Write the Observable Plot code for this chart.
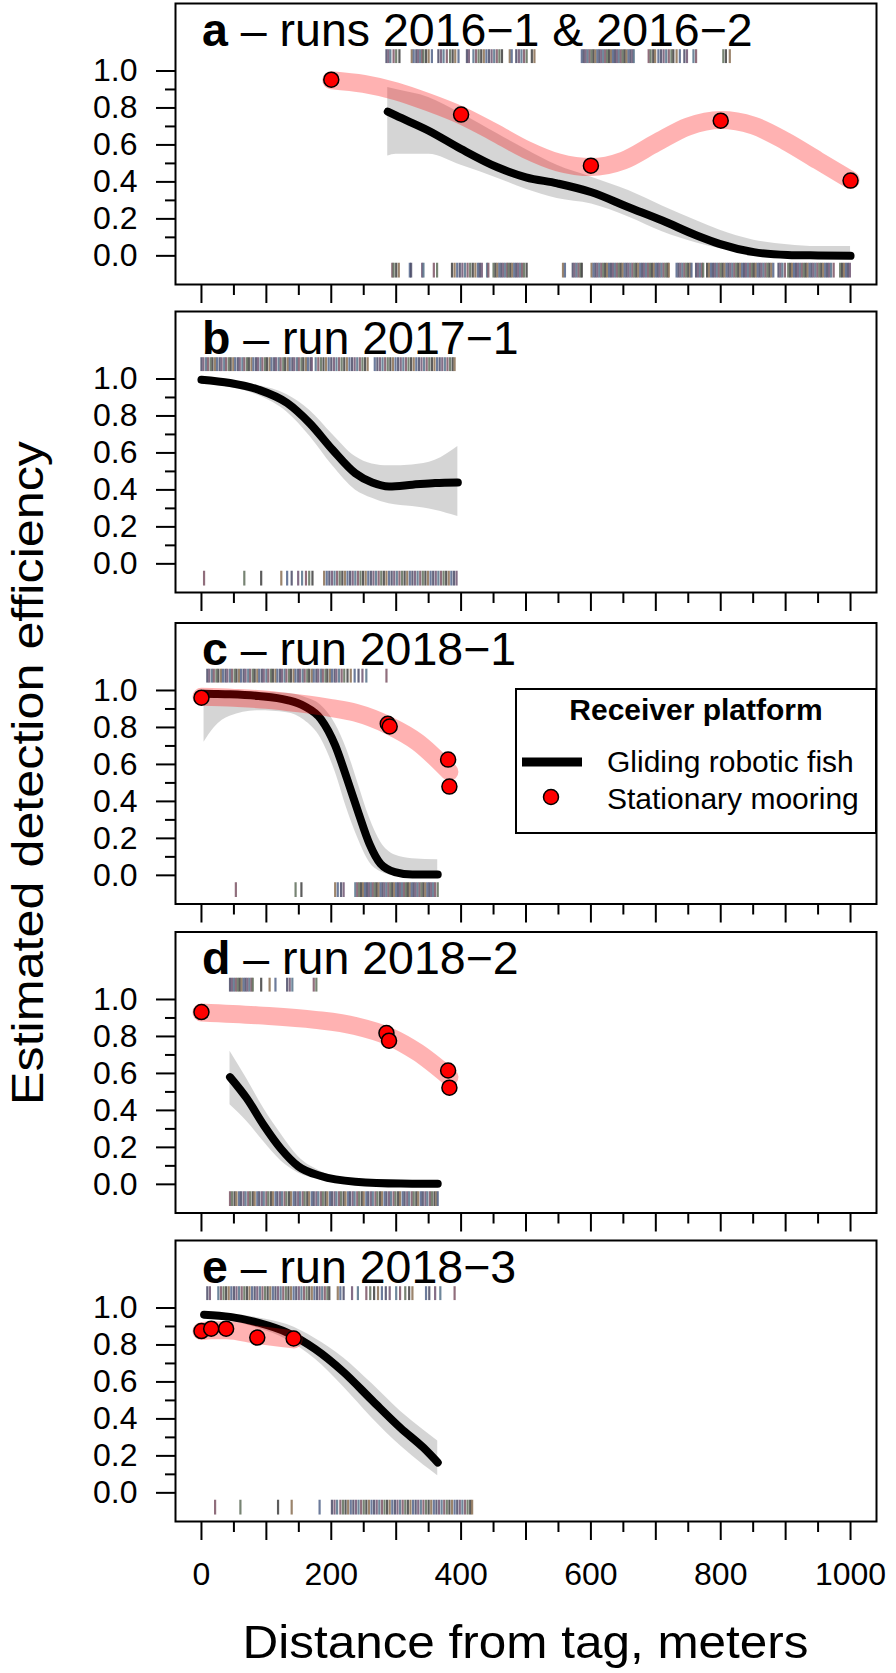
<!DOCTYPE html>
<html><head><meta charset="utf-8">
<script src="https://cdn.jsdelivr.net/npm/d3@7"></script>
<script src="https://cdn.jsdelivr.net/npm/@observablehq/plot@0.6"></script>
<style>
html,body{margin:0;padding:0;background:#fff;}
#wrap{position:relative;width:896px;height:1673px;overflow:hidden;font-family:"Liberation Sans",Arial,sans-serif;}
#wrap svg{position:absolute;left:0;}
</style></head><body><div id="wrap"></div>
<script>
// ---------- data ----------
const panelLetters = ["a", "b", "c", "d", "e"];
const panelRuns = ["runs 2016\u22121 & 2016\u22122", "run 2017\u22121", "run 2018\u22121", "run 2018\u22122", "run 2018\u22123"];
const yTitle = "Estimated detection efficiency";
const xTitle = "Distance from tag, meters";
const legendTitle = "Receiver platform";
const legendLabels = ["Gliding robotic fish", "Stationary mooring"];

const yMajorTicks = [0, 0.2, 0.4, 0.6, 0.8, 1.0];
const yMinorTicks = [0.1, 0.3, 0.5, 0.7, 0.9];
const xLabelTicks = [0, 200, 400, 600, 800, 1000];
const xMidTicks = [100, 300, 500, 700, 900];
const xMinorTicks = [50, 150, 250, 350, 450, 550, 650, 750, 850, 950];

// glider (robotic fish) fits: distance, mean, lower, upper
const glA_x = [287, 300, 350, 400, 456, 500, 548, 601, 658, 710, 763, 798, 851, 903, 950, 1000];
const glA_m = [0.78, 0.758, 0.677, 0.578, 0.479, 0.425, 0.392, 0.344, 0.263, 0.191, 0.110, 0.065, 0.02, 0.005, 0.002, 0.0];
const glA_lo = [0.54, 0.55, 0.55, 0.49, 0.42, 0.36, 0.31, 0.28, 0.21, 0.13, 0.07, 0.04, 0.015, 0.0, 0.0, 0.0];
const glA_hi = [0.91, 0.90, 0.857, 0.77, 0.66, 0.575, 0.49, 0.425, 0.353, 0.27, 0.19, 0.14, 0.085, 0.06, 0.05, 0.05];

const glB_x = [0, 44, 88, 132, 167, 202, 237, 263, 289, 325, 360, 395];
const glB_m = [0.996, 0.978, 0.942, 0.87, 0.76, 0.617, 0.49, 0.44, 0.419, 0.428, 0.437, 0.44];
const glB_lo = [0.97, 0.955, 0.91, 0.82, 0.69, 0.53, 0.40, 0.355, 0.325, 0.31, 0.29, 0.256];
const glB_hi = [1.0, 0.99, 0.965, 0.915, 0.83, 0.70, 0.58, 0.54, 0.53, 0.535, 0.56, 0.635];

const glC_x = [4, 20, 44, 88, 132, 158, 184, 206, 224, 241, 259, 276, 298, 325, 364];
const glC_m = [0.982, 0.981, 0.979, 0.97, 0.948, 0.916, 0.845, 0.703, 0.525, 0.347, 0.169, 0.062, 0.018, 0.005, 0.005];
const glC_lo = [0.72, 0.80, 0.86, 0.89, 0.88, 0.84, 0.74, 0.56, 0.36, 0.20, 0.07, 0.02, 0.0, 0.0, 0.0];
const glC_hi = [0.99, 0.99, 0.99, 0.99, 0.985, 0.965, 0.92, 0.82, 0.68, 0.50, 0.31, 0.18, 0.11, 0.09, 0.085];

const glD_x = [44, 70, 96, 123, 149, 184, 237, 307, 364];
const glD_m = [0.58, 0.464, 0.32, 0.19, 0.098, 0.045, 0.014, 0.004, 0.003];
const glD_lo = [0.43, 0.34, 0.23, 0.125, 0.062, 0.025, 0.005, 0.0, 0.0];
const glD_hi = [0.72, 0.57, 0.41, 0.27, 0.15, 0.07, 0.025, 0.012, 0.01];

const glE_x = [4, 44, 88, 132, 175, 219, 263, 307, 342, 364];
const glE_m = [0.964, 0.952, 0.92, 0.867, 0.778, 0.653, 0.50, 0.35, 0.244, 0.164];
const glE_lo = [0.946, 0.93, 0.89, 0.827, 0.724, 0.573, 0.404, 0.253, 0.15, 0.093];
const glE_hi = [0.98, 0.97, 0.946, 0.91, 0.835, 0.73, 0.59, 0.44, 0.34, 0.28];

// stationary mooring fits
const pkA_x = [200, 250, 300, 350, 400, 450, 500, 550, 600, 650, 700, 750, 800, 850, 900, 950, 1000];
const pkA_y = [0.95, 0.93, 0.89, 0.83, 0.76, 0.67, 0.575, 0.505, 0.48, 0.515, 0.61, 0.70, 0.735, 0.705, 0.62, 0.515, 0.41];
const pkC_x = [0, 50, 100, 150, 200, 237, 289, 333, 382];
const pkC_y = [0.966, 0.96, 0.95, 0.93, 0.905, 0.88, 0.81, 0.72, 0.56];
const pkD_x = [0, 88, 175, 237, 289, 333, 382];
const pkD_y = [0.93, 0.914, 0.89, 0.857, 0.80, 0.714, 0.58];
const pkE_x = [0, 15, 38, 86, 142];
const pkE_y = [0.875, 0.88, 0.88, 0.855, 0.83];

// stationary mooring observations
const stA_x = [200, 400, 600, 800, 1000];
const stA_y = [0.953, 0.764, 0.488, 0.731, 0.407];
const stC_x = [0, 287, 290, 380, 382];
const stC_y = [0.961, 0.82, 0.805, 0.626, 0.48];
const stD_x = [0, 285, 289, 380, 382];
const stD_y = [0.932, 0.818, 0.777, 0.616, 0.523];
const stE_x = [0, 15, 38, 86, 142];
const stE_y = [0.875, 0.888, 0.888, 0.84, 0.835];

// rug: distances of detected (top) and missed (bottom) transmissions
const rugA_top = [285, 288, 291, 296, 300, 305, 324, 327, 331, 334, 337, 340, 342, 346, 350, 355, 365, 369, 373, 378, 383, 387, 391, 396, 409, 412, 419, 423, 427, 431, 435, 439, 443, 447, 451, 455, 459, 463, 475, 478, 485, 489, 493, 497, 501, 509, 513, 586, 589, 592, 595, 598, 601, 604, 607, 610, 613, 616, 619, 622, 625, 628, 631, 634, 637, 640, 643, 646, 649, 652, 655, 658, 661, 664, 666, 689, 692, 696, 699, 704, 708, 712, 716, 720, 724, 727, 732, 737, 744, 748, 758, 762, 804, 808, 814];
const rugA_bot = [294, 296, 300, 304, 321, 323, 340, 342, 358, 363, 386, 390, 394, 398, 402, 406, 410, 414, 418, 422, 426, 429, 432, 440, 442, 450, 453, 456, 459, 462, 465, 468, 471, 473, 476, 479, 482, 485, 488, 491, 494, 497, 501, 557, 560, 572, 575, 578, 581, 584, 586,
  601, 604, 607, 610, 613, 616, 619, 622, 625, 628, 631, 634, 637, 640, 643, 646, 649, 652, 655, 658, 661, 664, 667, 670, 673, 676, 679, 682, 685, 688, 691, 694, 697, 700, 703, 706, 709, 712, 715, 718, 720,
  732, 735, 738, 741, 744, 747, 750, 753, 755, 762, 765, 768, 771, 773,
  779, 782, 785, 788, 791, 794, 797, 800, 803, 806, 809, 812, 815, 818, 821, 824, 827, 830, 833, 836, 839, 842, 845, 848, 851, 854, 857, 860, 863, 866, 869, 872, 875, 878, 881,
  889, 892, 895, 899, 904, 907, 910, 913, 916, 919, 922, 925, 928, 931, 934, 937, 940, 943, 946, 949, 952, 955, 958, 961, 964, 967, 970, 974, 984, 987, 990, 993, 996, 999];
const rugB_top = [0, 3, 7, 10, 14, 17, 21, 24, 28, 31, 35, 38, 42, 45, 49, 52, 56, 59, 63, 66, 70, 73, 77, 80, 84, 87, 91, 94, 98, 101, 105, 108, 112, 115, 119, 122, 126, 129, 133, 136, 140, 143, 147, 150, 154, 157, 161, 164, 168, 170, 176, 180, 184, 188, 192, 196, 200, 204, 208, 212, 216, 220, 224, 228, 232, 236, 240, 244, 248, 252, 256, 267, 271, 275, 279, 283, 287, 291, 295, 299, 303, 307, 311, 315, 319, 323, 327, 331, 335, 339, 343, 347, 351, 355, 359, 363, 367, 371, 375, 379, 383, 387, 390];
const rugB_bot = [4, 66, 92, 123, 132, 139, 149, 155, 161, 166, 171, 189, 193, 197, 201, 205, 209, 213, 217, 221, 225, 229, 233, 237, 241, 245, 249, 253, 257, 261, 265, 269, 273, 277, 281, 285, 289, 293, 297, 301, 305, 309, 313, 317, 321, 325, 329, 333, 337, 341, 345, 349, 353, 357, 361, 365, 369, 373, 377, 381, 385, 389, 393];
const rugC_top = [9, 12, 16, 19, 23, 26, 30, 33, 37, 40, 44, 47, 51, 54, 58, 61, 65, 68, 72, 75, 79, 82, 86, 89, 93, 96, 100, 103, 107, 110, 114, 117, 121, 124, 128, 131, 135, 138, 142, 145, 149, 152, 156, 159, 163, 166, 170, 173, 177, 180, 184, 187, 191, 194, 198, 201, 205, 208, 212, 216, 220, 225, 230, 236, 242, 248, 254, 285];
const rugC_bot = [53, 145, 154, 206, 210, 215, 219, 237, 240, 243, 246, 249, 252, 255, 258, 261, 264, 267, 270, 273, 276, 279, 282, 285, 288, 291, 294, 297, 300, 303, 306, 309, 312, 315, 318, 321, 324, 327, 330, 333, 336, 339, 342, 345, 348, 351, 354, 357, 360, 364];
const rugD_top = [44, 47, 50, 53, 56, 59, 62, 65, 68, 71, 74, 77, 79, 92, 105, 114, 132, 136, 140, 173, 177];
const rugD_bot = [44, 47, 51, 54, 58, 61, 65, 68, 72, 75, 79, 82, 86, 89, 93, 96, 100, 103, 107, 110, 114, 117, 121, 124, 128, 131, 135, 138, 142, 145, 149, 152, 156, 159, 163, 166, 170, 173, 177, 180, 184, 187, 191, 194, 198, 201, 205, 208, 212, 215, 219, 222, 226, 229, 233, 236, 240, 243, 247, 250, 254, 257, 261, 264, 268, 271, 275, 278, 282, 285, 289, 292, 296, 299, 303, 306, 310, 313, 317, 320, 324, 327, 331, 334, 338, 341, 345, 348, 352, 355, 359, 362, 364];
const rugE_top = [9, 13, 26, 30, 34, 38, 42, 46, 50, 54, 58, 62, 66, 70, 74, 78, 82, 86, 90, 94, 98, 102, 106, 110, 114, 118, 122, 126, 130, 134, 138, 142, 146, 150, 154, 158, 162, 166, 170, 174, 178, 182, 186, 190, 194, 197, 210, 214, 219, 232, 241, 254, 260, 266, 272, 278, 284, 290, 300, 306, 314, 320, 325, 346, 351, 360, 368, 390];
const rugE_bot = [21, 60, 118, 139, 182, 201, 205, 209, 214, 218, 222, 226, 230, 234, 238, 242, 246, 250, 254, 258, 262, 266, 270, 274, 278, 282, 286, 290, 294, 298, 302, 306, 310, 314, 318, 322, 326, 330, 334, 338, 342, 346, 350, 354, 358, 362, 366, 370, 374, 378, 382, 386, 390, 394, 398, 402, 406, 410, 414, 417];

// ---------- layout / style ----------
const xDomain = [-40, 1040];
const yDomain = [-0.155, 1.365];
const rugTopY = [1.04, 1.115];
const rugBotY = [-0.04, -0.12];
const rugPalette = ["#4a4a66", "#6e5572", "#56728a", "#7d5565", "#5f6e5b", "#3f3f3f", "#8a6e52", "#52648a"];
const frameTops = [3, 311, 622.5, 931.5, 1240];
const frameH = 281;
const FONT = '"Liberation Sans", Arial, Helvetica, sans-serif';

const zip = (xs, ys) => xs.map((x, i) => ({x, y: ys[i]}));
const band = (xs, m, lo, hi) => xs.map((x, i) => ({x, m: m[i], lo: lo[i], hi: hi[i]}));

const panels = [
  {g: band(glA_x, glA_m, glA_lo, glA_hi), p: zip(pkA_x, pkA_y), s: zip(stA_x, stA_y), rt: rugA_top, rb: rugA_bot},
  {g: band(glB_x, glB_m, glB_lo, glB_hi), p: [], s: [], rt: rugB_top, rb: rugB_bot},
  {g: band(glC_x, glC_m, glC_lo, glC_hi), p: zip(pkC_x, pkC_y), s: zip(stC_x, stC_y), rt: rugC_top, rb: rugC_bot},
  {g: band(glD_x, glD_m, glD_lo, glD_hi), p: zip(pkD_x, pkD_y), s: zip(stD_x, stD_y), rt: rugD_top, rb: rugD_bot},
  {g: band(glE_x, glE_m, glE_lo, glE_hi), p: zip(pkE_x, pkE_y), s: zip(stE_x, stE_y), rt: rugE_top, rb: rugE_bot}
];

const wrap = document.getElementById("wrap");

panels.forEach((P, i) => {
  const last = i === panels.length - 1;
  const svgTop = Math.floor(frameTops[i]) - 3;
  const mTop = frameTops[i] - svgTop;
  const mBottom = last ? 80 : 26;
  const marks = [
    Plot.ruleX(P.rt, {x: d => d, y1: rugTopY[0], y2: rugTopY[1], stroke: (d, k) => rugPalette[k % rugPalette.length], strokeWidth: 2.2, strokeOpacity: 0.85}),
    Plot.ruleX(P.rb, {x: d => d, y1: rugBotY[0], y2: rugBotY[1], stroke: (d, k) => rugPalette[(k + 3) % rugPalette.length], strokeWidth: 2.2, strokeOpacity: 0.85}),
    Plot.areaY(P.g, {x: "x", y1: "lo", y2: "hi", fill: "#808080", fillOpacity: 0.33, curve: "monotone-x"}),
    Plot.line(P.g, {x: "x", y: "m", stroke: "black", strokeWidth: 8, curve: "monotone-x", strokeLinecap: "round"}),
    Plot.line(P.p, {x: "x", y: "y", stroke: "red", strokeOpacity: 0.3, strokeWidth: 18, curve: "monotone-x", strokeLinecap: "round"}),
    Plot.dot(P.s, {x: "x", y: "y", r: 7.5, fill: "red", stroke: "black", strokeWidth: 1.5}),
    Plot.frame({stroke: "black", strokeWidth: 2}),
    Plot.axisY(yMajorTicks, {tickSize: 19, tickPadding: 19, tickFormat: d3.format(".1f"), fontSize: 32, strokeWidth: 2, label: null}),
    Plot.axisY(yMinorTicks, {tickSize: 10, tickFormat: () => "", strokeWidth: 2, label: null}),
    Plot.axisX(xLabelTicks, {tickSize: 19, tickPadding: 22, tickFormat: last ? (d => String(d)) : (() => ""), fontSize: 32, strokeWidth: 2, label: null}),
    Plot.axisX(xMidTicks, {tickSize: 19, tickFormat: () => "", strokeWidth: 2, label: null}),
    Plot.axisX(xMinorTicks, {tickSize: 11, tickFormat: () => "", strokeWidth: 2, label: null})
  ];
  const chart = Plot.plot({
    width: 896,
    height: mTop + frameH + mBottom,
    marginLeft: 175, marginRight: 20, marginTop: mTop, marginBottom: mBottom,
    x: {domain: xDomain, axis: null, label: null},
    y: {domain: yDomain, axis: null, label: null},
    color: {type: "identity"},
    style: {background: "transparent", fontFamily: FONT, fontSize: "32px", color: "black", overflow: "visible"},
    marks
  });
  chart.style.top = svgTop + "px";
  wrap.appendChild(chart);
});

// ---------- overlay: panel titles, axis titles, legend ----------
const ov = d3.create("svg").attr("width", 896).attr("height", 1673)
  .style("top", "0px").style("pointer-events", "none")
  .attr("font-family", FONT).attr("fill", "black");

panelLetters.forEach((L, i) => {
  const t = ov.append("text").attr("x", 202).attr("y", frameTops[i] + 42.5).attr("font-size", 46.5);
  t.append("tspan").attr("font-weight", "bold").text(L);
  t.append("tspan").text(" \u2013 " + panelRuns[i]);
});

ov.append("text").attr("transform", "translate(43,773) rotate(-90)")
  .attr("text-anchor", "middle").attr("font-size", 45)
  .attr("textLength", 664).attr("lengthAdjust", "spacingAndGlyphs").text(yTitle);
ov.append("text").attr("x", 525.5).attr("y", 1658)
  .attr("text-anchor", "middle").attr("font-size", 47)
  .attr("textLength", 566).attr("lengthAdjust", "spacingAndGlyphs").text(xTitle);

const lg = ov.append("g");
lg.append("rect").attr("x", 516).attr("y", 689).attr("width", 360).attr("height", 144)
  .attr("fill", "white").attr("stroke", "black").attr("stroke-width", 2);
lg.append("text").attr("x", 696).attr("y", 720).attr("text-anchor", "middle")
  .attr("font-size", 30).attr("font-weight", "bold").text(legendTitle);
lg.append("line").attr("x1", 522).attr("x2", 582).attr("y1", 762).attr("y2", 762)
  .attr("stroke", "black").attr("stroke-width", 9);
lg.append("circle").attr("cx", 551).attr("cy", 797).attr("r", 7.5)
  .attr("fill", "red").attr("stroke", "black").attr("stroke-width", 1.5);
lg.append("text").attr("x", 607).attr("y", 772).attr("font-size", 30).text(legendLabels[0]);
lg.append("text").attr("x", 607).attr("y", 809).attr("font-size", 30).text(legendLabels[1]);

wrap.appendChild(ov.node());
</script></body></html>
